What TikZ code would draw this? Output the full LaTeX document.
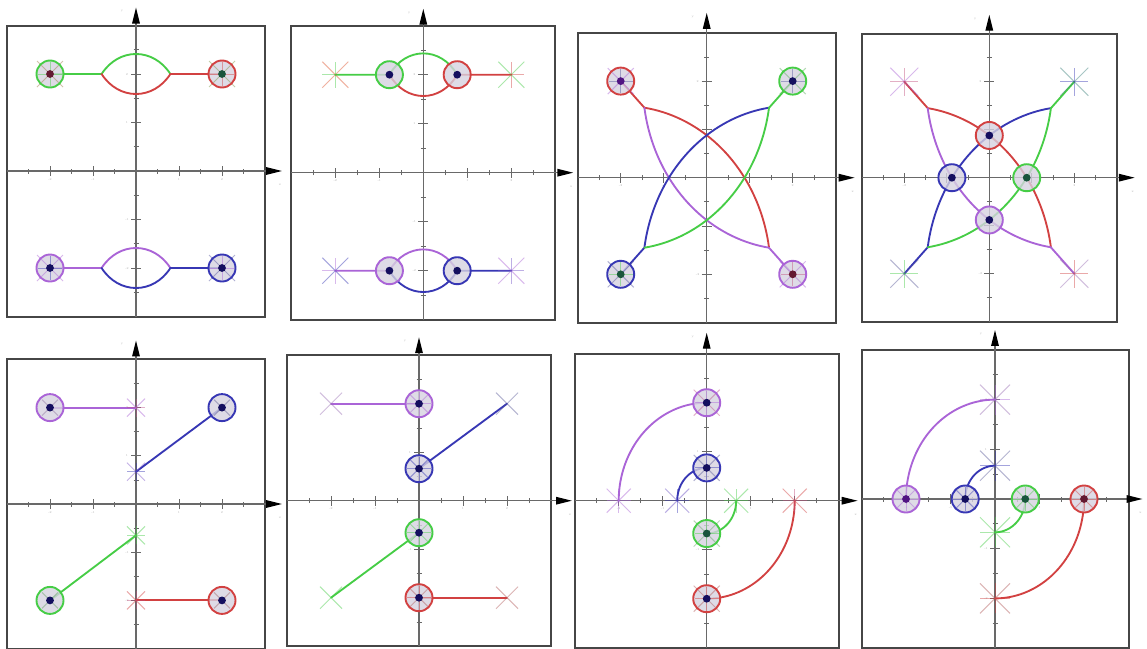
\documentclass[tikz,border=0pt]{standalone}
\usetikzlibrary{arrows.meta}
\definecolor{gr}{RGB}{70,205,70}
\definecolor{rd}{RGB}{210,65,65}
\definecolor{bl}{RGB}{55,55,180}
\definecolor{pu}{RGB}{170,100,215}
\definecolor{navy}{RGB}{20,15,95}
\definecolor{maroon}{RGB}{100,25,50}
\definecolor{dkgreen}{RGB}{25,85,60}
\definecolor{dkpurple}{RGB}{80,20,130}
\definecolor{axisgray}{RGB}{105,105,105}
\definecolor{boxgray}{RGB}{70,70,70}
\definecolor{zfillc}{RGB}{214,210,224}
\tikzset{
  axc/.style={draw=axisgray, line width=1.4pt},
  boxline/.style={draw=boxgray, line width=2pt},
  locus/.style={line width=1.85pt, line cap=round},
  ticklbl/.style={font=\fontsize{3}{3}\selectfont, text=gray!60, inner sep=0pt},
  axarrow/.style={-{Triangle[length=16pt,width=7.5pt,color=black]}},
}
% frame of a panel (unit coordinates, box = [-3,3]^2)
\newcommand\panelframe[3]{%
  \draw[boxline] (-3,-3) rectangle (3,3);
  \draw[axc, axarrow] (-3,0) -- ([xshift=#3pt]3,0);
  \draw[axc, axarrow] (0,-3) -- ([yshift=#2pt]0,3);
  \foreach \k in {-2.5,-1.5,-0.5,0.5,1.5,2.5}{
    \draw[axc, line width=.8pt] (\k,0) +(0,-2.5pt) -- +(0,2.5pt);
    \draw[axc, line width=.8pt] (0,\k) +(-2.5pt,0) -- +(2.5pt,0);}
  \foreach \k/\n in {-2/a,-1/b,1/c,2/d}{
    \draw[axc, line width=1pt] (\k,0) +(0,-5pt) -- +(0,5pt);
    \draw[axc, line width=1pt] (0,\k) +(-5pt,0) -- +(5pt,0);
    \node[ticklbl] (#1x\n) at ([yshift=-8pt]\k,0) {\k};
    \node[ticklbl] (#1y\n) at ([xshift=-9pt]0,\k) {\k};}
  \node[ticklbl] (#1xl) at ([xshift=#3pt-2pt, yshift=-14pt]3,0) {x};
  \node[ticklbl] (#1yl) at ([xshift=-14pt, yshift=#2pt-4pt]0,3) {y};
}
\newcommand\zfill[1]{\fill[zfillc, fill opacity=.8] (#1) circle[radius=13.5pt];}
\newcommand\zring[3]{\draw[#2, line width=1.9pt] (#1) circle[radius=13.5pt];
  \fill[#3] (#1) circle[radius=3.9pt];}
\newcommand\xmark[3]{\draw[#2, line width=1pt, opacity=.45] (#1) +(-#3pt,-#3pt) -- +(#3pt,#3pt) +(-#3pt,#3pt) -- +(#3pt,-#3pt);}
\newcommand\pmark[3]{\draw[#2, line width=1pt, opacity=.45] (#1) +(-#3pt,0) -- +(#3pt,0) +(0,-#3pt) -- +(0,#3pt);}
% circle with spokes: coord, ring colour, dot colour, x colour, + colour, x size, + size
\newcommand\zfull[7]{\zfill{#1}\xmark{#1}{#4}{#6}\pmark{#1}{#5}{#7}\zring{#1}{#2}{#3}}
\newcommand\zplain[3]{\zfill{#1}\zring{#1}{#2}{#3}}
\newcommand\pole[4]{\xmark{#1}{#2}{#4}\pmark{#1}{#3}{#4}}

\begin{document}
\begin{tikzpicture}[x=1pt,y=-1pt]
\useasboundingbox (0,0) rectangle (1147,648);
\clip (0,0) rectangle (1147,648);
\fill[white] (0,0) rectangle (1147,648);

% ---------------- panel 1 ----------------
\begin{scope}[shift={(136pt,-171pt)}, x=43pt, y=48.5pt]
  \panelframe{pA}{18}{17}
  \draw[locus, gr] (-2,2) -- (-0.8,2) .. controls (-0.4,2.55) and (0.4,2.55) .. (0.8,2);
  \draw[locus, rd] (-0.8,2) .. controls (-0.4,1.45) and (0.4,1.45) .. (0.8,2) -- (2,2);
  \draw[locus, pu] (-2,-2) -- (-0.8,-2) .. controls (-0.4,-1.45) and (0.4,-1.45) .. (0.8,-2);
  \draw[locus, bl] (-0.8,-2) .. controls (-0.4,-2.55) and (0.4,-2.55) .. (0.8,-2) -- (2,-2);
  \zfull{-2,2}{gr}{maroon}{rd!60!gr}{gr}{13}{12}
  \zfull{2,2}{rd}{dkgreen}{gr!60!rd}{rd}{13}{12}
  \zfull{-2,-2}{pu}{navy}{pu}{bl}{13}{12}
  \zfull{2,-2}{bl}{navy}{bl!60!gray}{pu}{13}{12}
\end{scope}

% ---------------- panel 2 ----------------
\begin{scope}[shift={(423.3pt,-172.7pt)}, x=44pt, y=49pt]
  \panelframe{pB}{17}{18}
  \draw[locus, gr] (-2,2) -- (-0.77,2) .. controls (-0.4,2.58) and (0.4,2.58) .. (0.77,2);
  \draw[locus, rd] (-0.77,2) .. controls (-0.4,1.42) and (0.4,1.42) .. (0.77,2) -- (2,2);
  \draw[locus, pu] (-2,-2) -- (-0.77,-2) .. controls (-0.4,-1.42) and (0.4,-1.42) .. (0.77,-2);
  \draw[locus, bl] (-0.77,-2) .. controls (-0.4,-2.58) and (0.4,-2.58) .. (0.77,-2) -- (2,-2);
  \pole{-2,2}{rd!70!orange}{gr}{13}
  \pole{2,2}{gr}{rd}{13}
  \pole{-2,-2}{bl}{pu}{13}
  \pole{2,-2}{pu}{bl!50!pu}{13}
  \zplain{-0.77,2}{gr}{navy}
  \zplain{0.77,2}{rd}{navy}
  \zplain{-0.77,-2}{pu}{navy}
  \zplain{0.77,-2}{bl}{navy}
\end{scope}

% ---------------- panel 3 ----------------
\begin{scope}[shift={(706.7pt,-177.7pt)}, x=43pt, y=48.3pt]
  \panelframe{pC}{20}{19}
  \draw[locus, rd] (-2,2) -- (-1.45,1.45) -- plot[domain=81.6:8.4, samples=40] ({-1.949+3.435*cos(\x)},{-1.949+3.435*sin(\x)});
  \draw[locus, pu] plot[domain=188.4:261.6, samples=40] ({1.949+3.435*cos(\x)},{1.949+3.435*sin(\x)}) -- (2,-2);
  \draw[locus, bl] (-2,-2) -- (-1.45,-1.45) -- plot[domain=171.6:98.4, samples=40] ({1.949+3.435*cos(\x)},{-1.949+3.435*sin(\x)});
  \draw[locus, gr] plot[domain=278.4:351.6, samples=40] ({-1.949+3.435*cos(\x)},{1.949+3.435*sin(\x)}) -- (2,2);
  \zfull{-2,2}{rd}{dkpurple}{pu}{bl!60!gray}{13}{12}
  \zfull{2,2}{gr}{navy}{gr!60!gray}{bl!60!gray}{13}{12}
  \zfull{-2,-2}{bl}{dkgreen}{bl!60!gray}{gr}{13}{12}
  \zfull{2,-2}{pu}{maroon}{pu}{rd!60!pu}{13}{12}
\end{scope}

% ---------------- panel 4 ----------------
\begin{scope}[shift={(989.3pt,-177.7pt)}, x=42.5pt, y=48pt]
  \panelframe{pD}{19}{18}
  \draw[locus, rd] (-2,2) -- (-1.45,1.45) -- plot[domain=81.6:8.4, samples=40] ({-1.949+3.435*cos(\x)},{-1.949+3.435*sin(\x)});
  \draw[locus, pu] plot[domain=188.4:261.6, samples=40] ({1.949+3.435*cos(\x)},{1.949+3.435*sin(\x)}) -- (2,-2);
  \draw[locus, bl] (-2,-2) -- (-1.45,-1.45) -- plot[domain=171.6:98.4, samples=40] ({1.949+3.435*cos(\x)},{-1.949+3.435*sin(\x)});
  \draw[locus, gr] plot[domain=278.4:351.6, samples=40] ({-1.949+3.435*cos(\x)},{1.949+3.435*sin(\x)}) -- (2,2);
  \pole{-2,2}{pu}{rd!60!pu}{14}
  \pole{2,2}{gr!50!bl}{bl}{14}
  \pole{-2,-2}{bl!50!gray}{gr}{14}
  \pole{2,-2}{pu!60!gray}{rd}{14}
  \zplain{0,0.88}{rd}{navy}
  \zplain{0.88,0}{gr}{dkgreen}
  \zplain{-0.88,0}{bl}{navy}
  \zplain{0,-0.88}{pu}{navy}
\end{scope}

% ---------------- panel 5 ----------------
\begin{scope}[shift={(136pt,-504pt)}, x=43pt, y=48.2pt]
  \panelframe{pE}{19}{17}
  \draw[locus, pu] (-2,2) -- (0,2);
  \draw[locus, bl] (0,0.67) -- (2,2);
  \draw[locus, gr] (0,-0.65) -- (-2,-2);
  \draw[locus, rd] (0,-2) -- (2,-2);
  \pole{0,2}{pu}{rd!50!pu}{9}
  \pole{0,0.67}{pu!60!bl}{bl}{9}
  \pole{0,-0.65}{gr}{gr}{9}
  \pole{0,-2}{rd}{rd!60!pu}{9}
  \zfill{-2,2}\xmark{-2,2}{pu!40!gray}{8}\zring{-2,2}{pu}{navy}
  \zfill{2,2}\xmark{2,2}{bl!40!gray}{8}\zring{2,2}{bl}{navy}
  \zfill{-2,-2}\xmark{-2,-2}{gr!40!gray}{8}\zring{-2,-2}{gr}{navy}
  \zfill{2,-2}\xmark{2,-2}{rd!40!gray}{8}\zring{2,-2}{rd}{navy}
\end{scope}

% ---------------- panel 6 ----------------
\begin{scope}[shift={(419pt,-500.7pt)}, x=44pt, y=48.5pt]
  \panelframe{pF}{18}{21}
  \draw[locus, pu] (-2,2) -- (0,2);
  \draw[locus, bl] (0,0.66) -- (2,2);
  \draw[locus, gr] (0,-0.66) -- (-2,-2);
  \draw[locus, rd] (0,-2) -- (2,-2);
  \xmark{-2,2}{pu!60!gray}{11}
  \xmark{2,2}{bl!50!gray}{11}
  \xmark{-2,-2}{gr}{11}
  \xmark{2,-2}{rd!60!gray}{11}
  \zfull{0,2}{pu}{navy}{pu}{pu}{9}{12}
  \zfull{0,0.66}{bl}{navy}{bl}{bl}{9}{12}
  \zfull{0,-0.66}{gr}{navy}{gr}{gr}{9}{12}
  \zfull{0,-2}{rd}{navy}{rd!60!gray}{rd}{9}{12}
\end{scope}

% ---------------- panel 7 ----------------
\begin{scope}[shift={(706.7pt,-500.7pt)}, x=44pt, y=49pt]
  \panelframe{pG}{21}{19}
  \draw[locus, pu] plot[domain=90:180, samples=40] ({2*cos(\x)},{2*sin(\x)});
  \draw[locus, bl] plot[domain=90:180, samples=30] ({0.67*cos(\x)},{0.67*sin(\x)});
  \draw[locus, gr] plot[domain=270:360, samples=30] ({0.67*cos(\x)},{0.67*sin(\x)});
  \draw[locus, rd] plot[domain=270:360, samples=40] ({2*cos(\x)},{2*sin(\x)});
  \pole{-2,0}{pu}{pu}{12}
  \pole{-0.67,0}{bl!60!pu}{bl}{12}
  \pole{0.67,0}{gr}{gr}{12}
  \pole{2,0}{rd}{rd!60!pu}{12}
  \zfull{0,2}{pu}{navy}{rd!50!pu}{pu}{13}{12}
  \zfull{0,0.67}{bl}{navy}{bl!50!gray}{bl}{13}{12}
  \zfull{0,-0.67}{gr}{dkgreen}{gr!50!gray}{gr}{13}{12}
  \zfull{0,-2}{rd}{navy}{rd!60!gray}{rd}{13}{12}
\end{scope}

% ---------------- panel 8 ----------------
\begin{scope}[shift={(995pt,-499pt)}, x=44.5pt, y=49.7pt]
  \panelframe{pH}{20}{14}
  \draw[locus, pu] plot[domain=90:180, samples=40] ({2*cos(\x)},{2*sin(\x)});
  \draw[locus, bl] plot[domain=90:180, samples=30] ({0.67*cos(\x)},{0.67*sin(\x)});
  \draw[locus, gr] plot[domain=270:360, samples=30] ({0.68*cos(\x)},{0.67*sin(\x)});
  \draw[locus, rd] plot[domain=270:360, samples=40] ({2*cos(\x)},{2*sin(\x)});
  \pole{0,2}{pu!60!gray}{pu}{15}
  \pole{0,0.67}{bl!50!gray}{bl}{15}
  \pole{0,-0.67}{gr}{gr}{15}
  \pole{0,-2}{rd!60!gray}{rd}{15}
  \zfull{-2,0}{pu}{dkpurple}{pu}{pu}{9}{12}
  \zfull{-0.67,0}{bl}{navy}{bl}{bl}{9}{12}
  \zfull{0.68,0}{gr}{dkgreen}{gr}{gr}{9}{12}
  \zfull{2,0}{rd}{maroon}{rd}{rd}{9}{12}
\end{scope}
\end{tikzpicture}
\end{document}
